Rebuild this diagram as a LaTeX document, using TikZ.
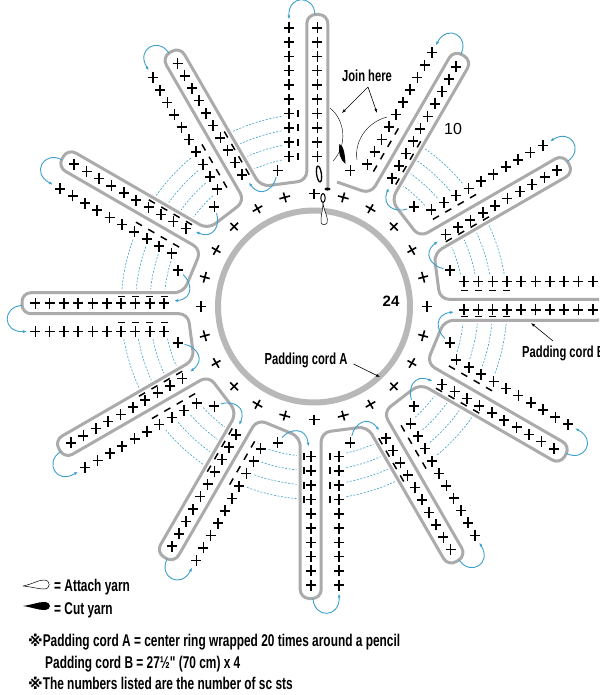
\documentclass[tikz,border=0pt]{standalone}
\usepackage{fontspec}
\usetikzlibrary{arrows.meta}
\newfontfamily\capfont[FakeStretch=0.7]{Liberation Sans}
\newfontfamily\numfont{Liberation Sans}
\newfontfamily\markfont{DejaVu Sans}
\definecolor{yarnblue}{RGB}{60,160,205}
\tikzset{
	sc/.pic={\draw[line width=1.6pt] (-5,0) -- (5,0) (0,-5.5) -- (0,5.5);},
	tick/.style={line width=1.5pt},
	cordb/.style={draw=black!33, line width=3pt, rounded corners=9pt},
	hook/.style={draw=yarnblue, line width=.9pt, ->},
	dotline/.style={draw=yarnblue, line width=.6pt, dash pattern=on 2pt off 1.5pt},
	lab/.style={font=\capfont\bfseries\fontsize{16}{18}\selectfont, inner sep=0pt},
	note/.style={font=\capfont\bfseries\fontsize{17}{19}\selectfont, inner sep=0pt, anchor=west}
}
\begin{document}
\begin{tikzpicture}[x=1pt, y=-1pt, >={Latex[length=4pt,width=3pt]}]
	\useasboundingbox (0,0) rectangle (606,695);
	\begin{scope}
		\clip (0,0) rectangle (599,695);
		\begin{scope}[shift={(314,306.5)}, y=1pt]
			\foreach \t in {90,120,...,420} {
				\begin{scope}[rotate=\t]
					\coordinate (a\t) at (130.5,-13.8);
					\coordinate (b\t) at (292,-13.8);
					\coordinate (c\t) at (292,7.2);
					\coordinate (d\t) at (126,7.2);
				\end{scope}
			}
			\draw[cordb] (13.8,119.5) -- (b90) -- (c90) -- (d90) foreach \t in {120,150,...,420} { -- (a\t) -- (b\t) -- (c\t) -- (d\t)} -- (23,124.5);
			\draw[draw=black!28, line width=6pt] (0,0) circle (96);
			\foreach \a in {0,15,...,345} {\pic[rotate=\a] at (\a:113) {sc};}
			\foreach \t in {90,120,...,420} {
				\begin{scope}[rotate=\t]
					\foreach \k in {0,...,9} {
						\pic at (150+14.3*\k,-3.3) {sc};
						\pic at (150+14.3*\k,25) {sc};
					}
					\foreach \k in {0,...,3} {
						\draw[tick] (146.5+14.3*\k,16) -- (153.5+14.3*\k,16);
						\ifnum\t=90\else\draw[tick] (146.5+14.3*\k,-9.8) -- (153.5+14.3*\k,-9.8);\fi
					}
					\draw[hook] (292,-1) .. controls (312,0) and (312,26) .. (287,25);
					\ifnum\t=90\else
						\pic at (-15:141) {sc};
						\draw[hook] (131,-32) .. controls (122,-24) and (120,-8) .. (140,-5.5);
					\fi
					\ifnum\t=420\else
						\foreach \k in {0,...,3} {
							\pgfmathsetmacro\r{150+14.3*\k}
							\pgfmathsetmacro\pa{atan(33/\r)}
							\pgfmathsetmacro\pb{30-atan(17.5/\r)}
							\draw[dotline] (\pa:\r) arc[start angle=\pa, end angle=\pb, radius=\r];
						}
					\fi
				\end{scope}
			}
			\pic at (75:141) {sc};
		\end{scope}
		\node[lab, anchor=west] (cordB) at (522,353) {Padding cord B};
	\end{scope}
	\draw[line width=1.3pt, fill=white, rotate around={8:(319,174)}] (319,174) ellipse (2.4 and 8);
	\fill (327.5,189) ellipse (3 and 1.6);
	\draw[line width=1pt, fill=white] (323,198) ellipse (2.2 and 4.5);
	\draw[line width=.5pt, fill=white] (323,203) .. controls (324,212) and (329,218) .. (327,223) .. controls (325,226) and (320,225) .. (321,220) .. controls (321,214) and (323,210) .. (323,203);
	\draw[line width=.4pt] (330,108) .. controls (345,120) and (348,145) .. (333,161);
	\draw[line width=.4pt] (387,117) .. controls (368,122) and (354,140) .. (357,160);
	\fill (339.5,144) .. controls (344,146) and (345,155) .. (345.5,164) .. controls (340,160) and (338,152) .. (339.5,144);
	\node[lab] (join) at (367,76) {Join here};
	\coordinate (joinA) at (342,113);
	\coordinate (joinB) at (377,113);
	\draw[->, line width=.6pt] (368,87) -- (joinA);
	\draw[->, line width=.6pt] (368,87) -- (joinB);
	\node[lab] (cordA) at (306,360) {Padding cord A};
	\coordinate (ringA) at (380,377);
	\draw[->, line width=.6pt] (cordA.east) ++(6,4) -- (ringA);
	\coordinate (pathB) at (531,323);
	\draw[->, line width=.6pt] (553,341) -- (pathB);
	\node[font=\numfont\fontsize{16}{18}\selectfont, inner sep=0pt] (ten) at (453,129) {10};
	\node[font=\numfont\bfseries\fontsize{15}{17}\selectfont, inner sep=0pt] (sts) at (391,301) {24};
	\draw[line width=.5pt, fill=white] (23,586) .. controls (33,584) and (38,580) .. (44,580) .. controls (51,580) and (51,589) .. (44,589) .. controls (38,589) and (33,587) .. (23,586);
	\fill (23,606) .. controls (33,604.5) and (38,602) .. (44,602) .. controls (52,602) and (52,610) .. (44,610) .. controls (38,610) and (33,607.5) .. (23,606);
	\node[note] (attach) at (54,587) {= Attach yarn};
	\node[note] (cut) at (54,610) {= Cut yarn};
	\node[note] (noteA) at (28,642) {{\markfont\fontsize{15}{17}\selectfont ※}Padding cord A = center ring wrapped 20 times around a pencil};
	\node[note] (noteB) at (45,664) {Padding cord B = 27½" (70 cm) x 4};
	\node[note] (noteC) at (28,683) {{\markfont\fontsize{15}{17}\selectfont ※}The numbers listed are the number of sc sts};
\end{tikzpicture}
\end{document}
